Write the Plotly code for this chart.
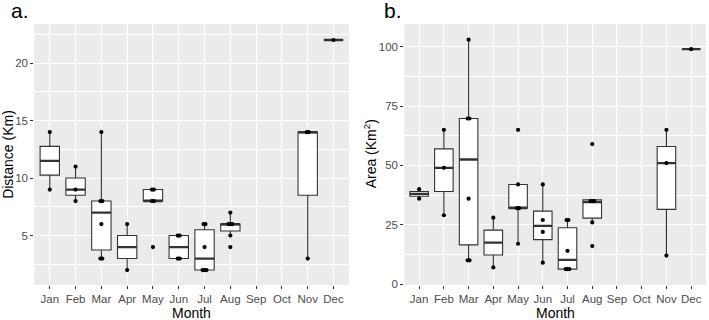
import plotly.graph_objects as go

months = ["Jan", "Feb", "Mar", "Apr", "May", "Jun", "Jul", "Aug", "Sep", "Oct", "Nov", "Dec"]

# Panel a: Distance (Km) — observed values per month
dist_values = [[9, 14], [8, 9, 11], [3, 3, 6, 8, 8, 14], [2, 6], [4, 8, 8, 9, 9],
               [3, 3, 5, 5], [2, 2, 2, 4, 6, 6], [4, 5, 6, 6, 6, 7], [], [], [3, 14, 14], [22]]
dist_q1 = [10.25, 8.5, 3.75, 3, 8, 3, 2, 5.4, None, None, 8.5, 22]
dist_med = [11.5, 9, 7, 4, 8, 4, 3, 6, None, None, 14, 22]
dist_q3 = [12.75, 10, 8, 5, 9, 5, 5.5, 6, None, None, 14, 22]
dist_lo = [9, 8, 3, 2, 8, 3, 2, 5, None, None, 3, 22]
dist_hi = [14, 11, 14, 6, 9, 5, 6, 7, None, None, 14, 22]
dist_ticks = [5, 10, 15, 20]
dist_minor = [2.5, 7.5, 12.5, 17.5, 22.5]

# Panel b: Area (Km2)
area_values = [[36, 40], [29, 49, 65], [10, 10, 36, 69.8, 69.8, 103], [7, 28], [17, 32, 32, 42, 65],
               [9, 22, 27, 42], [6.3, 6.3, 6.3, 14, 27, 27], [16, 26, 35, 35, 35, 59], [], [], [12, 51, 65], [99]]
area_q1 = [37, 39, 16.5, 12.25, 32, 18.75, 6.3, 27.8, None, None, 31.5, 99]
area_med = [38, 49, 52.5, 17.5, 32, 24.5, 10.2, 34.5, None, None, 51, 99]
area_q3 = [39, 57, 69.8, 22.75, 42, 30.75, 23.75, 35.5, None, None, 58, 99]
area_lo = [36, 29, 10, 7, 17, 9, 6.3, 26, None, None, 12, 99]
area_hi = [40, 65, 103, 28, 42, 42, 27, 35.5, None, None, 65, 99]
area_ticks = [0, 25, 50, 75, 100]
area_minor = [12.5, 37.5, 62.5, 87.5]

W, H = 709, 320
FONT = "Liberation Sans, Arial, Helvetica, sans-serif"
EDGE = "#333333"
BOXW = 0.75


def px(x):
    return x / W


def py(y):
    return 1 - y / H


fig = go.Figure()

panels = [
    ("x", "y", dist_values, dist_q1, dist_med, dist_q3, dist_lo, dist_hi),
    ("x2", "y2", area_values, area_q1, area_med, area_q3, area_lo, area_hi),
]

for xa, ya, vals, q1, med, q3, lo, hi in panels:
    idx = [i for i in range(len(months)) if med[i] is not None]
    pos = [i + 1 for i in idx]
    fig.add_trace(go.Box(
        x=pos, q1=[q1[i] for i in idx], median=[med[i] for i in idx], q3=[q3[i] for i in idx],
        lowerfence=[lo[i] for i in idx], upperfence=[hi[i] for i in idx],
        xaxis=xa, yaxis=ya, fillcolor="white", line=dict(color=EDGE, width=1.1),
        whiskerwidth=0, width=BOXW, boxpoints=False, showlegend=False, hoverinfo="skip"))
    # thicker median lines (ggplot fatten)
    mx, my = [], []
    for i in idx:
        mx += [i + 1 - BOXW / 2, i + 1 + BOXW / 2, None]
        my += [med[i], med[i], None]
    fig.add_trace(go.Scatter(x=mx, y=my, mode="lines", xaxis=xa, yaxis=ya,
                             line=dict(color=EDGE, width=2.3), showlegend=False, hoverinfo="skip"))
    # points, duplicates spread slightly side by side
    sx, sy = [], []
    for i, vs in enumerate(vals):
        seen = {}
        for v in vs:
            seen[v] = seen.get(v, 0) + 1
        for v, n in seen.items():
            for k in range(n):
                sx.append(i + 1 + (k - (n - 1) / 2) * 0.075)
                sy.append(v)
    fig.add_trace(go.Scatter(x=sx, y=sy, mode="markers", xaxis=xa, yaxis=ya,
                             marker=dict(color="black", size=4.2, line=dict(width=0)),
                             showlegend=False, hoverinfo="skip"))

xcommon = dict(range=[0.4, 12.6], tickvals=list(range(1, 13)), ticktext=months,
               showgrid=True, gridcolor="white", gridwidth=1.1, zeroline=False, showline=False,
               ticks="outside", ticklen=3, tickwidth=1, tickcolor=EDGE,
               tickfont=dict(family=FONT, size=11.5, color="#4D4D4D"), fixedrange=True)
ycommon = dict(showgrid=True, gridcolor="white", gridwidth=1.1, zeroline=False, showline=False,
               ticks="outside", ticklen=3, tickwidth=1, tickcolor=EDGE,
               tickfont=dict(family=FONT, size=11.5, color="#4D4D4D"), fixedrange=True)

ydom = [py(289.3), py(24.3)]
fig.update_layout(
    width=W, height=H, margin=dict(l=0, r=0, t=0, b=0),
    paper_bgcolor="white", plot_bgcolor="#EBEBEB",
    xaxis=dict(domain=[px(34.3), px(349)], anchor="y", **xcommon),
    xaxis2=dict(domain=[px(404.3), px(706)], anchor="y2", **xcommon),
    yaxis=dict(domain=ydom, anchor="x", range=[0.72, 23.4], tickvals=dist_ticks,
               minor=dict(tickvals=dist_minor, showgrid=True, gridcolor="white", gridwidth=0.55, ticks=""),
               **ycommon),
    yaxis2=dict(domain=ydom, anchor="x2", range=[-0.3, 109.66], tickvals=area_ticks,
                minor=dict(tickvals=area_minor, showgrid=True, gridcolor="white", gridwidth=0.55, ticks=""),
                **ycommon),
    showlegend=False,
)

ann = [
    dict(text="a.", x=px(9), y=py(11), xanchor="left", yanchor="middle", font=dict(size=21)),
    dict(text="b.", x=px(382), y=py(11), xanchor="left", yanchor="middle", font=dict(size=21)),
    dict(text="Distance (Km)", x=px(8.5), y=py(156.8), xanchor="center", yanchor="middle",
         textangle=-90, font=dict(size=14)),
    dict(text="Area (Km<sup>2</sup>)", x=px(370), y=py(156.8), xanchor="center", yanchor="middle",
         textangle=-90, font=dict(size=14)),
    dict(text="Month", x=px(191.7), y=py(318), xanchor="center", yanchor="middle", font=dict(size=14)),
    dict(text="Month", x=px(555), y=py(318), xanchor="center", yanchor="middle", font=dict(size=14)),
]
for a in ann:
    a.update(xref="paper", yref="paper", showarrow=False)
    a["font"].update(family=FONT, color="black")
fig.update_layout(annotations=ann)

fig.write_html("out.html", config={"displayModeBar": False},
               post_script="document.body.style.margin='0';document.body.style.padding='0';")
